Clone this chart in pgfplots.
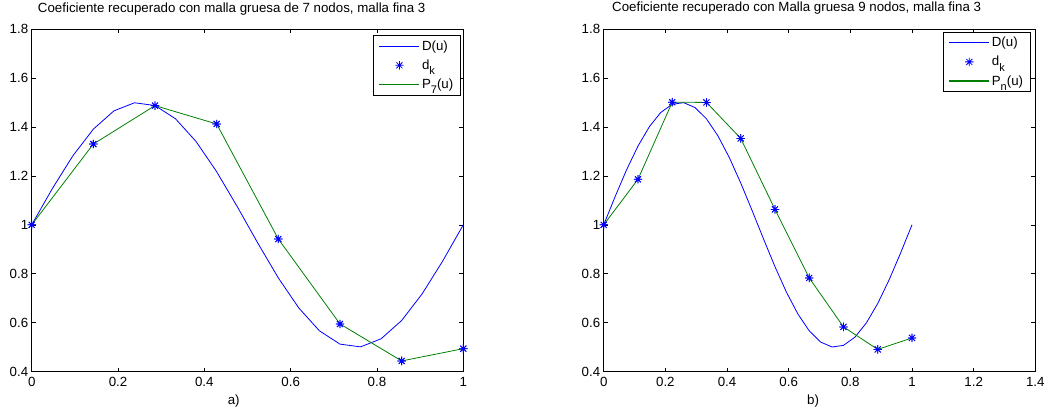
\documentclass[border=0pt]{standalone}
\usepackage{pgfplots}
\pgfplotsset{compat=1.18}
\usepackage{pgfplotstable}
\usepackage{fontspec}
\setmainfont{Liberation Sans}

\definecolor{mblue}{RGB}{0,0,255}
\definecolor{mgreen}{RGB}{0,128,0}

% eight-armed asterisk: a plus and a cross laid over each other
\pgfdeclareplotmark{mstar}{%
  \pgfpathmoveto{\pgfqpoint{-\pgfplotmarksize}{0pt}}%
  \pgfpathlineto{\pgfqpoint{\pgfplotmarksize}{0pt}}%
  \pgfpathmoveto{\pgfqpoint{0pt}{-\pgfplotmarksize}}%
  \pgfpathlineto{\pgfqpoint{0pt}{\pgfplotmarksize}}%
  \pgfpathmoveto{\pgfqpoint{-0.707\pgfplotmarksize}{-0.707\pgfplotmarksize}}%
  \pgfpathlineto{\pgfqpoint{0.707\pgfplotmarksize}{0.707\pgfplotmarksize}}%
  \pgfpathmoveto{\pgfqpoint{-0.707\pgfplotmarksize}{0.707\pgfplotmarksize}}%
  \pgfpathlineto{\pgfqpoint{0.707\pgfplotmarksize}{-0.707\pgfplotmarksize}}%
  \pgfusepathqstroke}

% Fine-mesh coefficient D(u), 7-node case (21 intervals)
\pgfplotstableread{
x y
0.000000 1.0000
0.047619 1.1474
0.095238 1.2817
0.142857 1.3909
0.190476 1.4655
0.238095 1.4986
0.285714 1.4874
0.333333 1.4330
0.380952 1.3401
0.428571 1.2169
0.476190 1.0745
0.523810 0.9255
0.571429 0.7831
0.619048 0.6599
0.666667 0.5670
0.714286 0.5126
0.761905 0.5014
0.809524 0.5345
0.857143 0.6091
0.904762 0.7183
0.952381 0.8526
1.000000 1.0000
}\fineA

% Recovered nodal values d_k, 7-node case
\pgfplotstableread{
x y
0.000000 1.000
0.142857 1.330
0.285714 1.487
0.428571 1.412
0.571429 0.942
0.714286 0.595
0.857143 0.444
1.000000 0.494
}\nodesA

% Fine-mesh coefficient D(u), 9-node case (27 intervals)
\pgfplotstableread{
x y
0.000000 1.0000
0.037037 1.1153
0.074074 1.2244
0.111111 1.3214
0.148148 1.4010
0.185185 1.4591
0.222222 1.4924
0.259259 1.4991
0.296296 1.4790
0.333333 1.4330
0.370370 1.3637
0.407407 1.2748
0.444444 1.1710
0.481481 1.0580
0.518519 0.9420
0.555556 0.8290
0.592593 0.7252
0.629630 0.6363
0.666667 0.5670
0.703704 0.5210
0.740741 0.5009
0.777778 0.5076
0.814815 0.5409
0.851852 0.5990
0.888889 0.6786
0.925926 0.7756
0.962963 0.8847
1.000000 1.0000
}\fineB

% Recovered nodal values d_k, 9-node case
\pgfplotstableread{
x y
0.000000 1.000
0.111111 1.186
0.222222 1.501
0.333333 1.500
0.444444 1.353
0.555556 1.063
0.666667 0.783
0.777778 0.583
0.888889 0.491
1.000000 0.538
}\nodesB

\newcommand{\chartfont}{\fontsize{13.3}{15}\selectfont}
% low-set subscript in the legend entries
\newcommand{\lsub}[1]{\raisebox{-0.38em}{\fontsize{11}{11}\selectfont #1}}

\pgfplotsset{
  matpanel/.style={
    scale only axis,
    width=431.6pt, height=342.7pt,
    anchor=south west,
    ymin=0.4, ymax=1.8,
    ytick={0.4,0.6,0.8,1,1.2,1.4,1.6,1.8},
    yticklabels={0.4,0.6,0.8,1,1.2,1.4,1.6,1.8},
    tick align=inside,
    major tick length=4pt,
    axis line style={line width=0.8pt},
    every tick/.style={black, line width=0.6pt},
    tick label style={font=\chartfont},
    xticklabel style={yshift=-2pt},
    title style={font=\chartfont, anchor=base},
    xlabel style={font=\chartfont, anchor=base},
    legend cell align=left,
    legend style={
      anchor=north east,
      line width=0.9pt,
      font=\chartfont,
      inner xsep=5pt, inner ysep=3pt,
      row sep=4pt,
      nodes={inner sep=2pt},
    },
  },
  fineline/.style={color=mblue, draw=mblue, line width=0.8pt, mark=none,
    legend image code/.code={%
      \draw[draw=mblue, line width=1.1pt] (0pt,0pt) -- (40pt,0pt);}},
  coarseline/.style={color=mgreen, draw=mgreen, line width=0.8pt, mark=none,
    legend image code/.code={%
      \draw[draw=mgreen, line width=1.1pt] (0pt,0pt) -- (40pt,0pt);}},
  dkmarks/.style={color=mblue, only marks, mark=mstar, mark size=4.2pt,
    mark options={draw=mblue, line width=0.8pt},
    legend image code/.code={%
      \path[draw=none] (0pt,0pt) -- (40pt,0pt);
      \path[draw=none]
        plot[mark=mstar, mark size=4.2pt,
             mark options={draw=mblue, line width=0.8pt}]
        coordinates {(20pt,0pt)};}},
}

\begin{document}
\begin{tikzpicture}
\path[use as bounding box] (0pt,0pt) rectangle (1054pt,414pt);

% a) 7 coarse nodes
\begin{axis}[matpanel,
  at={(31.7pt,42.3pt)},
  xmin=0, xmax=1,
  xtick={0,0.2,0.4,0.6,0.8,1},
  xticklabels={0,0.2,0.4,0.6,0.8,1},
  title={Coeficiente recuperado con malla gruesa de 7 nodos, malla fina 3},
  title style={at={(axis description cs:0.4634,1)}, yshift=10.7pt},
  xlabel={a)},
  xlabel style={at={(axis description cs:0.468,0)}, yshift=-33pt},
  legend style={at={(axis description cs:0.994,0.982)}},
]
\addplot[fineline] table {\fineA};
\addlegendentry{D(u)}
\addplot[dkmarks] table {\nodesA};
\addlegendentry{d\lsub{k}}
\addplot[coarseline] table {\nodesA};
\addlegendentry{P\lsub{7}(u)}
\addplot[dkmarks, forget plot] table {\nodesA};
\end{axis}

% b) 9 coarse nodes
\begin{axis}[matpanel,
  at={(603.7pt,42.3pt)},
  xmin=0, xmax=1.4,
  xtick={0,0.2,0.4,0.6,0.8,1,1.2,1.4},
  xticklabels={0,0.2,0.4,0.6,0.8,1,1.2,1.4},
  title={Coeficiente recuperado con Malla gruesa 9 nodos, malla fina 3},
  title style={at={(axis description cs:0.447,1)}, yshift=11.7pt},
  xlabel={b)},
  xlabel style={at={(axis description cs:0.485,0)}, yshift=-32.5pt},
  legend style={at={(axis description cs:0.989,0.992)}},
]
\addplot[fineline] table {\fineB};
\addlegendentry{D(u)}
\addplot[dkmarks] table {\nodesB};
\addlegendentry{d\lsub{k}}
\addplot[coarseline] table {\nodesB};
\addlegendentry{P\lsub{n}(u)}
\addplot[dkmarks, forget plot] table {\nodesB};
\end{axis}
\end{tikzpicture}
\end{document}
